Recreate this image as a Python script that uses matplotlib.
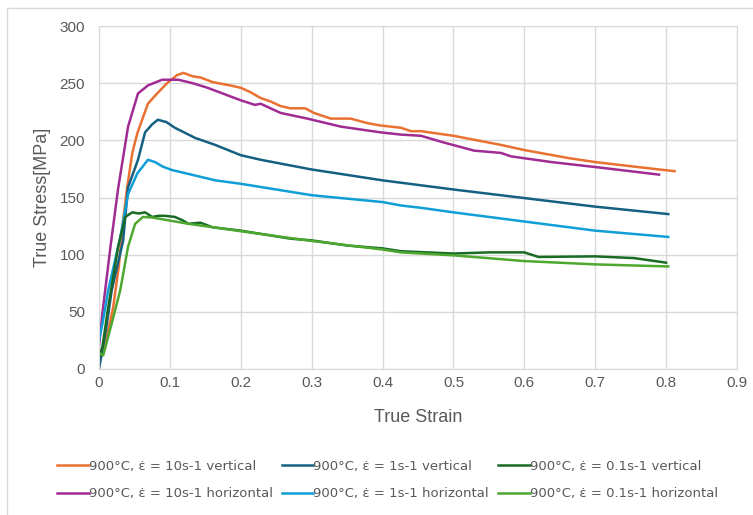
import matplotlib
matplotlib.use("Agg")
import matplotlib.pyplot as plt
from matplotlib.patches import Rectangle

# data (true strain, true stress MPa)
x_10v = [0.0, 0.01, 0.02, 0.028, 0.034, 0.04, 0.047, 0.054, 0.062, 0.069, 0.082, 0.096, 0.11, 0.119,
         0.132, 0.143, 0.16, 0.185, 0.2, 0.214, 0.228, 0.242, 0.256, 0.27, 0.291, 0.303, 0.327, 0.355,
         0.379, 0.397, 0.426, 0.44, 0.454, 0.5, 0.567, 0.6, 0.662, 0.7, 0.755, 0.812]
y_10v = [5, 25, 54, 90, 130, 160, 189, 206, 220, 232, 241, 250, 257, 259,
         256, 255, 251, 248, 246, 242, 237, 234, 230, 228, 228, 224, 219, 219,
         215, 213, 211, 208, 208, 204, 196, 191.5, 184.5, 181, 177, 173]

x_10h = [0.0, 0.005, 0.016, 0.027, 0.041, 0.055, 0.069, 0.089, 0.112, 0.132, 0.153, 0.2, 0.22, 0.228,
         0.242, 0.256, 0.294, 0.341, 0.397, 0.426, 0.454, 0.487, 0.529, 0.567, 0.581, 0.638, 0.709, 0.79]
y_10h = [20, 50, 106, 158, 212, 241, 248, 253, 253, 250, 246, 235, 231, 232,
         228, 224, 219, 212, 207, 205, 204, 198, 191, 189, 186, 181, 176, 170]

x_1v = [0.0, 0.01, 0.018, 0.034, 0.041, 0.055, 0.065, 0.075, 0.083, 0.095, 0.107, 0.136, 0.164, 0.2,
        0.228, 0.3, 0.4, 0.5, 0.6, 0.7, 0.803]
y_1v = [0, 35, 69, 112, 159, 183, 207, 214, 218, 216, 211, 202, 196, 187,
        183, 174.5, 165, 157, 149.5, 142, 135.5]

x_1h = [0.0, 0.005, 0.013, 0.03, 0.041, 0.054, 0.069, 0.079, 0.09, 0.103, 0.117, 0.164, 0.2, 0.3,
        0.4, 0.426, 0.454, 0.5, 0.6, 0.7, 0.803]
y_1h = [25, 40, 69, 115, 153, 171, 183, 181, 177, 174, 172, 165, 162, 152,
        146, 143, 141, 137, 129, 121, 115.5]

x_01v = [0.0, 0.005, 0.013, 0.027, 0.037, 0.047, 0.056, 0.065, 0.075, 0.084, 0.093, 0.107, 0.118,
         0.126, 0.143, 0.16, 0.2, 0.27, 0.3, 0.35, 0.4, 0.426, 0.5, 0.55, 0.567, 0.6, 0.61, 0.62,
         0.7, 0.755, 0.8]
y_01v = [10, 20, 54, 107, 133, 137, 136, 137, 133, 134, 134, 133, 130,
         127, 128, 124, 121, 114, 112.5, 108, 105.5, 103, 101, 102, 102, 102, 100, 98,
         98.5, 97, 93]

x_01h = [0.0, 0.006, 0.018, 0.03, 0.041, 0.051, 0.062, 0.075, 0.089, 0.126, 0.2, 0.3, 0.4, 0.426,
         0.5, 0.6, 0.7, 0.803]
y_01h = [14, 12, 40, 69, 107, 127, 133, 132.5, 131, 127, 120.5, 112, 104.5, 102,
         99.4, 94.4, 91.5, 89.7]

labels = ["900°C, \u03b5\u0307 = 10s-1 vertical", "900°C, \u03b5\u0307 = 10s-1 horizontal",
          "900°C, \u03b5\u0307 = 1s-1 vertical", "900°C, \u03b5\u0307 = 1s-1 horizontal",
          "900°C, \u03b5\u0307 = 0.1s-1 vertical", "900°C, \u03b5\u0307 = 0.1s-1 horizontal"]
colors = ["#E97132", "#A02B93", "#156082", "#0F9ED5", "#196B24", "#4EA72E"]
series = [(x_10v, y_10v), (x_10h, y_10h), (x_1v, y_1v), (x_1h, y_1h), (x_01v, y_01v), (x_01h, y_01h)]

grey = "#595959"
gridc = "#D9D9D9"
plt.rcParams['font.family'] = ['Liberation Sans', 'DejaVu Sans']

fig = plt.figure(figsize=(7.53, 5.15), dpi=100)
fig.patches.append(Rectangle((7 / 753, -0.1), 1.2, 1 - 8 / 515 + 0.1, transform=fig.transFigure,
                             fill=False, edgecolor=gridc, linewidth=1))
ax = fig.add_axes([99 / 753, 1 - 369 / 515, (737 - 99) / 753, (369 - 26) / 515])

for (xs, ys), c, lab in zip(series, colors, labels):
    ax.plot(xs, ys, color=c, linewidth=1.8, label=lab)

ax.set_xlim(0, 0.9)
ax.set_ylim(0, 300)
ax.set_xticks([0, 0.1, 0.2, 0.3, 0.4, 0.5, 0.6, 0.7, 0.8, 0.9])
ax.set_xticklabels(["0", "0.1", "0.2", "0.3", "0.4", "0.5", "0.6", "0.7", "0.8", "0.9"])
ax.set_yticks(range(0, 301, 50))
ax.grid(True, color=gridc, linewidth=1)
ax.set_axisbelow(True)
for s in ax.spines.values():
    s.set_color(gridc)
ax.tick_params(length=0, colors=grey, labelsize=11)
ax.tick_params(axis='x', pad=5)
ax.tick_params(axis='y', pad=10)
ax.set_xlabel("True Strain", color=grey, fontsize=13, labelpad=14)
ax.set_ylabel("True Stress[MPa]", color=grey, fontsize=13, labelpad=6)

# DejaVu places the combining dot over the epsilon properly
leg = fig.legend(loc="center", bbox_to_anchor=(0.5146, 0.068), ncol=3, frameon=False,
                 prop={'family': 'DejaVu Sans', 'size': 9.5},
                 handlelength=2.4, handletextpad=0.0, columnspacing=0.7, labelspacing=1.1)
for t in leg.get_texts():
    t.set_color(grey)

fig.savefig("out.png", dpi=100)
